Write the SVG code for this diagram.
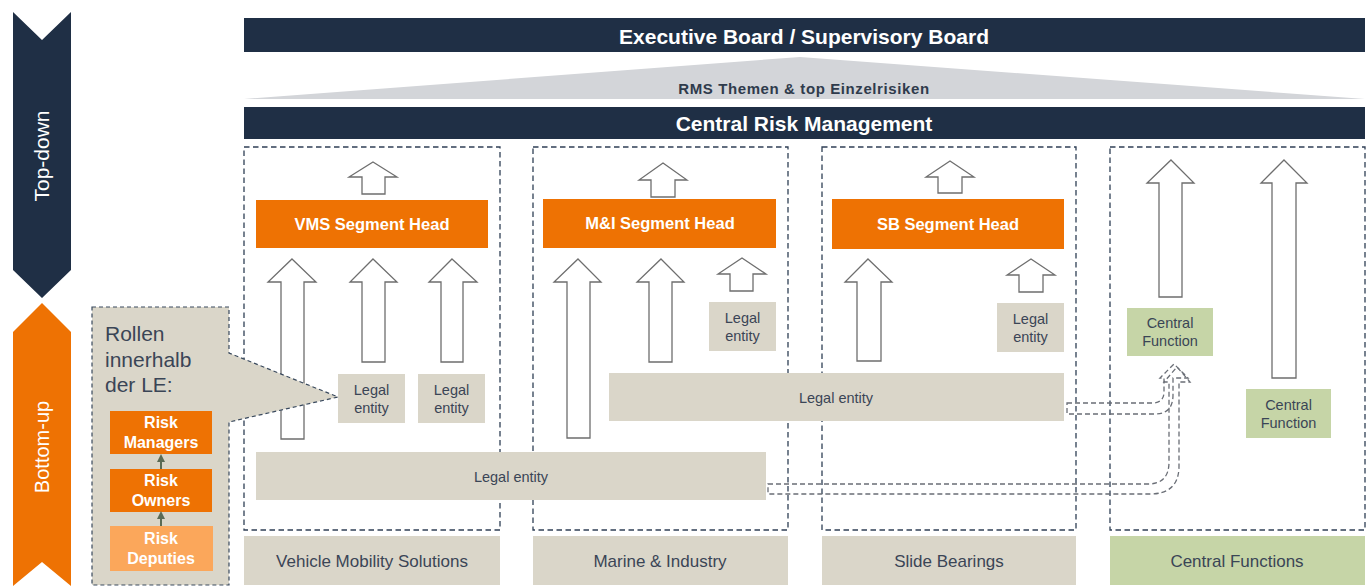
<svg xmlns="http://www.w3.org/2000/svg" width="1370" height="586" viewBox="0 0 1370 586">
<defs>
<style>
.navy{fill:#1F2F45}
.t{font-family:"Liberation Sans",Arial,sans-serif}
.wb{fill:#fff;font-weight:bold}
.dk{fill:#3A4556}
.col{fill:none;stroke:#2F3F55;stroke-width:1.3;stroke-dasharray:5.5,3.5}
.head{fill:#EE7203}
.le{fill:#DAD6C9}
.cf{fill:#C6D5A7}
.arr{fill:#fff;stroke:#6E6E6E;stroke-width:1.3}
.darr{fill:none;stroke:#6A6E76;stroke-width:1.3;stroke-dasharray:5,3}
</style>
<marker id="sm" viewBox="0 0 10 10" refX="5" refY="5" markerWidth="4" markerHeight="4" orient="auto">
<path d="M0,0 L10,5 L0,10 Z" fill="#5A6B55"/>
</marker>
</defs>
<rect width="1370" height="586" fill="#fff"/>

<g id="top-down">
<path d="M13,12 L42,40 L71,12 V270 L42,298 L13,270 Z" class="navy"/>
<text class="t" x="0" y="0" transform="translate(49,156) rotate(-90)" text-anchor="middle" fill="#fff" font-size="21">Top-down</text>
</g>
<g id="bottom-up">
<path d="M13,332 L42,303 L71,332 V586 L42,562 L13,586 Z" fill="#EE7203"/>
<text class="t" x="0" y="0" transform="translate(49,447) rotate(-90)" text-anchor="middle" fill="#fff" font-size="20">Bottom-up</text>
</g>

<g id="executive-board">
<rect x="244" y="18" width="1121" height="34" class="navy"/>
<text class="t wb" x="804" y="44" text-anchor="middle" font-size="21">Executive Board / Supervisory Board</text>
</g>
<g id="rms-themen">
<path d="M244,99 L800,57 L1365,99 Z" fill="#D3D5D9"/>
<text class="t" x="804" y="94" text-anchor="middle" font-size="15" letter-spacing="0.6" font-weight="bold" fill="#2F3B4C">RMS Themen &amp; top Einzelrisiken</text>
</g>
<g id="central-risk-management">
<rect x="244" y="107" width="1121" height="32" class="navy"/>
<text class="t wb" x="804" y="131" text-anchor="middle" font-size="21">Central Risk Management</text>
</g>

<g id="columns">
<rect x="244" y="147" width="256" height="383" class="col"/>
<rect x="533" y="147" width="255" height="383" class="col"/>
<rect x="822" y="147" width="254" height="383" class="col"/>
<rect x="1110" y="147" width="255" height="383" class="col"/>
</g>

<g id="connectors">
<path class="arr" d="M373,162 L397,177 L385,177 L385,194 L362,194 L362,177 L349,177 Z"/>
<path class="arr" d="M663,163 L687,180 L675,180 L675,197 L651,197 L651,180 L639,180 Z"/>
<path class="arr" d="M950,161 L974,177 L962,177 L962,193 L938,193 L938,177 L926,177 Z"/>
<path class="arr" d="M292,259 L316,282 L304,282 L304,439 L281,439 L281,282 L268,282 Z"/>
<path class="arr" d="M373,259 L397,282 L385,282 L385,362 L362,362 L362,282 L350,282 Z"/>
<path class="arr" d="M452,259 L477,282 L463,282 L463,362 L441,362 L441,282 L429,282 Z"/>
<path class="arr" d="M578,259 L601,282 L590,282 L590,438 L567,438 L567,282 L554,282 Z"/>
<path class="arr" d="M661,259 L684,282 L672,282 L672,362 L649,362 L649,282 L637,282 Z"/>
<path class="arr" d="M742,258 L766,274 L753,274 L753,291 L730,291 L730,274 L718,274 Z"/>
<path class="arr" d="M868,259 L892,282 L881,282 L881,361 L857,361 L857,282 L845,282 Z"/>
<path class="arr" d="M1031,259 L1055,275 L1043,275 L1043,292 L1019,292 L1019,275 L1007,275 Z"/>
<path class="arr" d="M1171,160 L1194,183 L1182,183 L1182,297 L1159,297 L1159,183 L1147,183 Z"/>
<path class="arr" d="M1284,160 L1307,183 L1296,183 L1296,378 L1272,378 L1272,183 L1261,183 Z"/>
<path class="darr" d="M1067,403 H1152 Q1164,403 1164,392 V378 H1160 L1174,364 L1188,378 H1173 V395 Q1173,414 1155,414 H1067 Z"/>
<path class="darr" d="M768,484 H1148 Q1169,484 1169,462 V382 H1164 L1177,367 L1190,382 H1179 V466 Q1179,494 1150,494 H768 Z"/>
</g>

<g id="vms-segment-head">
<rect x="256" y="200" width="232" height="48" class="head"/>
<text class="t wb" x="372" y="230" text-anchor="middle" font-size="16.5">VMS Segment Head</text>
</g>
<g id="mi-segment-head">
<rect x="543" y="199" width="233" height="49" class="head"/>
<text class="t wb" x="660" y="229" text-anchor="middle" font-size="16.5">M&amp;I Segment Head</text>
</g>
<g id="sb-segment-head">
<rect x="832" y="199" width="232" height="50" class="head"/>
<text class="t wb" x="948" y="230" text-anchor="middle" font-size="16.5">SB Segment Head</text>
</g>

<g id="vms-le-1">
<rect x="338" y="374" width="67" height="49" class="le"/>
<text class="t dk" x="371.5" y="395" text-anchor="middle" font-size="14.5">Legal</text>
<text class="t dk" x="371.5" y="413" text-anchor="middle" font-size="14.5">entity</text>
</g>
<g id="vms-le-2">
<rect x="418" y="374" width="67" height="49" class="le"/>
<text class="t dk" x="451.5" y="395" text-anchor="middle" font-size="14.5">Legal</text>
<text class="t dk" x="451.5" y="413" text-anchor="middle" font-size="14.5">entity</text>
</g>
<g id="mi-le">
<rect x="709" y="302" width="67" height="49" class="le"/>
<text class="t dk" x="742.5" y="323" text-anchor="middle" font-size="14.5">Legal</text>
<text class="t dk" x="742.5" y="341" text-anchor="middle" font-size="14.5">entity</text>
</g>
<g id="sb-le">
<rect x="997" y="303" width="67" height="49" class="le"/>
<text class="t dk" x="1030.5" y="324" text-anchor="middle" font-size="14.5">Legal</text>
<text class="t dk" x="1030.5" y="342" text-anchor="middle" font-size="14.5">entity</text>
</g>
<g id="le-wide-middle">
<rect x="609" y="373" width="455" height="48" class="le"/>
<text class="t dk" x="836" y="403" text-anchor="middle" font-size="14.5">Legal entity</text>
</g>
<g id="le-wide-bottom">
<rect x="256" y="452" width="510" height="48" class="le"/>
<text class="t dk" x="511" y="482" text-anchor="middle" font-size="14.5">Legal entity</text>
</g>
<g id="central-function-1">
<rect x="1127" y="308" width="86" height="48" class="cf"/>
<text class="t dk" x="1170" y="328" text-anchor="middle" font-size="14.5">Central</text>
<text class="t dk" x="1170" y="346" text-anchor="middle" font-size="14.5">Function</text>
</g>
<g id="central-function-2">
<rect x="1246" y="389" width="85" height="49" class="cf"/>
<text class="t dk" x="1288.5" y="410" text-anchor="middle" font-size="14.5">Central</text>
<text class="t dk" x="1288.5" y="428" text-anchor="middle" font-size="14.5">Function</text>
</g>

<g id="label-vms">
<rect x="244" y="536" width="256" height="49" class="le"/>
<text class="t dk" x="372" y="567" text-anchor="middle" font-size="17">Vehicle Mobility Solutions</text>
</g>
<g id="label-mi">
<rect x="533" y="536" width="255" height="49" class="le"/>
<text class="t dk" x="660" y="567" text-anchor="middle" font-size="17">Marine &amp; Industry</text>
</g>
<g id="label-sb">
<rect x="822" y="536" width="254" height="49" class="le"/>
<text class="t dk" x="949" y="567" text-anchor="middle" font-size="17">Slide Bearings</text>
</g>
<g id="label-cf">
<rect x="1110" y="536" width="255" height="49" class="cf"/>
<text class="t dk" x="1237" y="567" text-anchor="middle" font-size="17">Central Functions</text>
</g>

<g id="roles-callout">
<path d="M92,307 H229 V353 L338,397 L229,422 V585 H92 Z" fill="#DAD6C9" stroke="#3A4A5E" stroke-width="1.2" stroke-dasharray="4,3"/>
<text class="t dk" x="105" y="341" font-size="21">Rollen</text>
<text class="t dk" x="105" y="367" font-size="21">innerhalb</text>
<text class="t dk" x="105" y="392" font-size="21">der LE:</text>
</g>
<g id="risk-managers">
<rect x="110" y="411" width="102" height="43" fill="#EE7203"/>
<text class="t wb" x="161" y="428" text-anchor="middle" font-size="16">Risk</text>
<text class="t wb" x="161" y="448" text-anchor="middle" font-size="16">Managers</text>
</g>
<g id="risk-owners">
<rect x="110" y="469" width="102" height="43" fill="#EE7203"/>
<text class="t wb" x="161" y="486" text-anchor="middle" font-size="16">Risk</text>
<text class="t wb" x="161" y="506" text-anchor="middle" font-size="16">Owners</text>
</g>
<g id="risk-deputies">
<rect x="110" y="526" width="103" height="45" fill="#FBA75B"/>
<text class="t wb" x="161" y="544" text-anchor="middle" font-size="16">Risk</text>
<text class="t wb" x="161" y="564" text-anchor="middle" font-size="16">Deputies</text>
</g>
<g id="role-connectors">
<line x1="161" y1="469" x2="161" y2="458" stroke="#5A6B55" stroke-width="2" marker-end="url(#sm)"/>
<line x1="161" y1="526" x2="161" y2="515" stroke="#5A6B55" stroke-width="2" marker-end="url(#sm)"/>
</g>
</svg>
